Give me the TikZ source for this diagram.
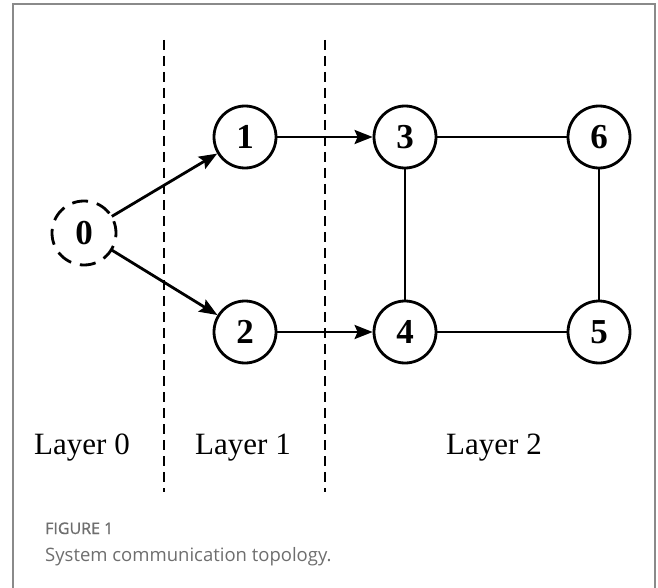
\documentclass[tikz,border=0pt]{standalone}
\usepackage{fontspec}
\setmainfont{Liberation Serif}
\newfontfamily\capfont{Open Sans}
\usetikzlibrary{arrows.meta}
\definecolor{framegray}{HTML}{8A8A8A}
\definecolor{capgray}{HTML}{6E6E6E}
\begin{document}
\begin{tikzpicture}[x=1pt,y=-1pt,
  vert/.style={circle,draw,line width=2.8pt,minimum size=62pt,inner sep=0pt,font=\fontsize{35}{35}\selectfont\bfseries},
  edge/.style={line width=2.8pt},
  arr/.style={edge,-{Stealth[length=18pt,width=14pt,inset=3pt]}},
  divider/.style={line width=1.7pt,dash pattern=on 10pt off 6pt},
  layerlbl/.style={font=\fontsize{31}{31}\selectfont,anchor=base,inner sep=0pt}]
\useasboundingbox (0,0) rectangle (658,588);
\draw[framegray,line width=2.2pt] (13,600) -- (13,4) -- (655,4) -- (655,600);
\coordinate (d1t) at (164,40); \coordinate (d1b) at (164,492);
\coordinate (d2t) at (325,40); \coordinate (d2b) at (325,492);
\draw[divider] (d1t) -- (d1b);
\draw[divider] (d2t) -- (d2b);
\node[vert,draw=none] (n0) at (84,233) {0};
\draw[line width=2.8pt,dash pattern=on 16pt off 9.1pt,dash phase=4pt] (n0.center) circle (32pt);
\node[vert] (n1) at (245,137) {1};
\node[vert] (n2) at (245,332) {2};
\node[vert] (n3) at (405,137) {3};
\node[vert] (n4) at (405,332) {4};
\node[vert] (n6) at (599,137) {6};
\node[vert] (n5) at (599,332) {5};
\draw[arr] (n0) -- (n1);
\draw[arr] (n0) -- (n2);
\draw[arr] (n1) -- (n3);
\draw[arr] (n2) -- (n4);
\draw[edge] (n3) -- (n6);
\draw[edge] (n3) -- (n4);
\draw[edge] (n4) -- (n5);
\draw[edge] (n6) -- (n5);
\node[layerlbl] (l0) at (82,454) {Layer 0};
\node[layerlbl] (l1) at (243,454) {Layer 1};
\node[layerlbl] (l2) at (494,454) {Layer 2};
\node[anchor=base west,inner sep=0pt,text=capgray,font=\capfont\fontsize{16}{16}\selectfont\addfontfeature{FakeBold=1}] (fig) at (45,534) {FIGURE 1};
\node[anchor=base west,inner sep=0pt,text=capgray,font=\capfont\fontsize{18.5}{18.5}\selectfont] (cap) at (45,561) {System communication topology.};
\end{tikzpicture}
\end{document}
